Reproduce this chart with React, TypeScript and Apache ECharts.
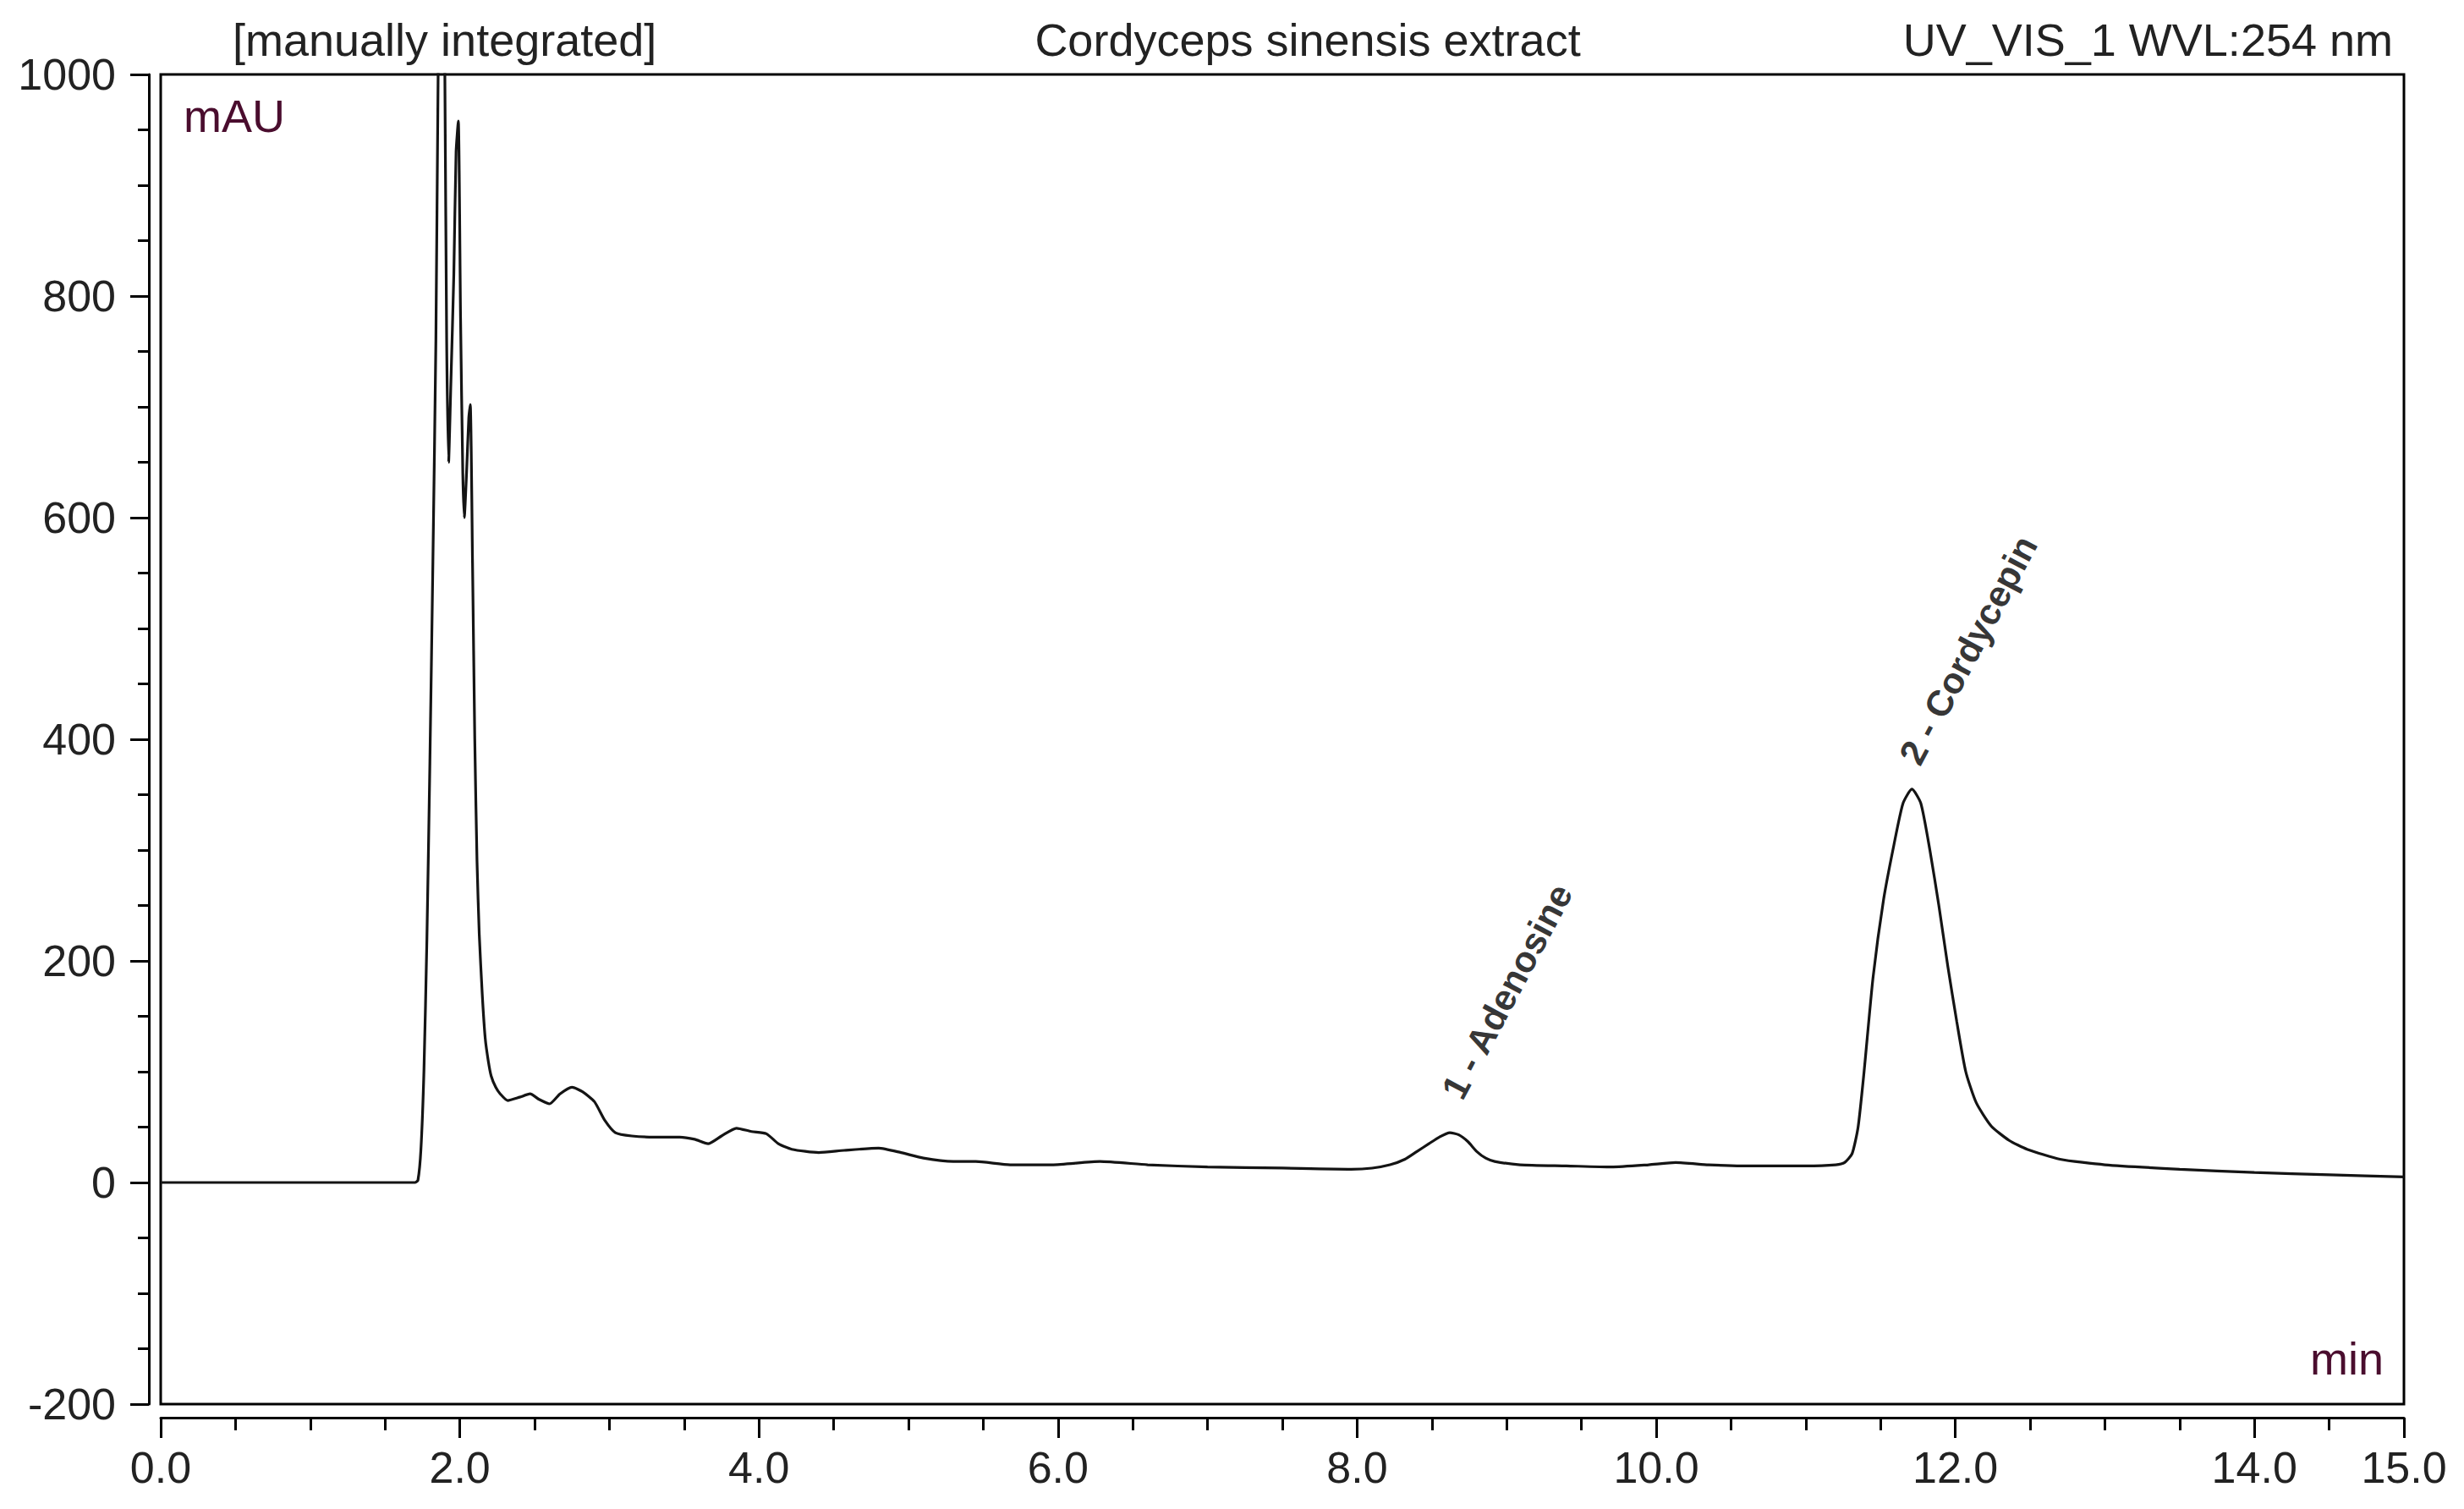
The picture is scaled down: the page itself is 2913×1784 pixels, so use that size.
import React, { useEffect, useRef } from "react";
import * as echarts from "echarts";

// Retention time (min)
const times = [0, 1.70, 1.72, 1.74, 1.76, 1.78, 1.80, 1.82, 1.84, 1.855, 1.875, 1.89, 1.90, 1.912, 1.925, 1.94, 1.96, 1.975, 1.99, 2.005, 2.02, 2.03, 2.045, 2.06, 2.07, 2.085, 2.10, 2.115, 2.13, 2.15, 2.17, 2.19, 2.21, 2.24, 2.27, 2.32, 2.40, 2.47, 2.53, 2.60, 2.67, 2.75, 2.82, 2.90, 2.97, 3.04, 3.15, 3.30, 3.47, 3.57, 3.66, 3.75, 3.85, 3.95, 4.05, 4.13, 4.22, 4.40, 4.57, 4.80, 4.95, 5.10, 5.30, 5.45, 5.68, 5.96, 6.28, 6.60, 7.00, 7.50, 7.96, 8.10, 8.22, 8.32, 8.40, 8.48, 8.55, 8.62, 8.68, 8.74, 8.80, 8.86, 8.92, 9.09, 9.40, 9.70, 9.95, 10.13, 10.35, 10.57, 11.00, 11.20, 11.26, 11.31, 11.35, 11.39, 11.45, 11.52, 11.59, 11.65, 11.71, 11.77, 11.83, 11.89, 11.95, 12.01, 12.07, 12.14, 12.24, 12.36, 12.48, 12.70, 13.00, 13.50, 14.00, 14.50, 15.00];

// Absorbance (mAU)
const absorbance = [0, 0, 2, 30, 100, 220, 380, 560, 760, 1000, 1250, 1150, 1000, 760, 650, 720, 820, 930, 958, 780, 640, 600, 640, 690, 702, 560, 400, 290, 224, 170, 130, 110, 96, 86, 80, 74, 77, 80, 75, 71, 80, 86, 82, 73, 56, 45, 42, 41, 41, 39, 35, 42, 49, 46, 44, 35, 30, 27, 29, 31, 27, 22, 19, 19, 16, 16, 19, 16, 14, 13, 12, 13, 16, 21, 28, 35, 41, 45, 43, 37, 28, 22, 19, 16, 15, 14, 16, 18, 16, 15, 15, 16, 18, 26, 50, 100, 185, 255, 305, 342, 355, 342, 300, 250, 195, 145, 100, 72, 51, 38, 30, 21, 16, 12, 9, 7, 5];

const peakNames = ["1 - Adenosine", "2 - Cordycepin"];
const peakLabelTimes = [8.63, 11.69];
const peakLabelValues = [78, 380];

const xMin = 0;
const xMax = 15;
const xMajor = 2;
const xMinor = 0.5;
const yMin = -200;
const yMax = 1000;
const yMajor = 200;
const yMinor = 50;

const headerLeft = "[manually integrated]";
const headerCenter = "Cordyceps sinensis extract";
const headerRight = "UV_VIS_1 WVL:254 nm";
const yUnit = "mAU";
const xUnit = "min";

const FONT = "'Liberation Sans', Arial, Helvetica, sans-serif";

export default function App() {
  const ref = useRef<HTMLDivElement>(null);

  useEffect(() => {
    document.body.style.margin = "0";
    document.body.style.overflow = "hidden";
    if (!ref.current) return;
    const chart = echarts.init(ref.current, undefined, { renderer: "svg" });

    const isMult = (v: number, m: number) => Math.abs(v / m - Math.round(v / m)) < 1e-6;

    const option: any = {
      animation: false,
      backgroundColor: "#ffffff",
      textStyle: { fontFamily: FONT },
      grid: {
        left: 190,
        top: 88,
        width: 2652,
        height: 1572,
        show: true,
        borderColor: "#000",
        borderWidth: 3,
        backgroundColor: "transparent",
        containLabel: false,
      },
      xAxis: [
        {
          type: "value",
          min: xMin,
          max: xMax,
          interval: xMinor,
          position: "bottom",
          offset: 16,
          axisLine: { show: true, onZero: false, lineStyle: { color: "#000", width: 3 } },
          axisTick: { show: true, length: 15, lineStyle: { color: "#000", width: 3 } },
          axisLabel: {
            show: true,
            margin: 33,
            fontSize: 52,
            color: "#222",
            fontFamily: FONT,
            showMaxLabel: true,
            showMinLabel: true,
            formatter: (v: number) => (isMult(v, xMajor) || Math.abs(v - xMax) < 1e-6 ? v.toFixed(1) : ""),
          },
          splitLine: { show: false },
        },
        {
          type: "value",
          min: xMin,
          max: xMax,
          interval: xMajor,
          position: "bottom",
          offset: 16,
          axisLine: { show: false, onZero: false },
          axisTick: { show: true, length: 24, lineStyle: { color: "#000", width: 3 } },
          axisLabel: { show: false },
          splitLine: { show: false },
        },
      ],
      yAxis: [
        {
          type: "value",
          min: yMin,
          max: yMax,
          interval: yMinor,
          position: "left",
          offset: 14,
          axisLine: { show: true, onZero: false, lineStyle: { color: "#000", width: 3 } },
          axisTick: { show: true, length: 13, lineStyle: { color: "#000", width: 3 } },
          axisLabel: {
            show: true,
            margin: 39,
            fontSize: 52,
            color: "#222",
            fontFamily: FONT,
            formatter: (v: number) => (isMult(v, yMajor) ? String(v) : ""),
          },
          splitLine: { show: false },
        },
        {
          type: "value",
          min: yMin,
          max: yMax,
          interval: yMajor,
          position: "left",
          offset: 14,
          axisLine: { show: false, onZero: false },
          axisTick: { show: true, length: 22, lineStyle: { color: "#000", width: 3 } },
          axisLabel: { show: false },
          splitLine: { show: false },
        },
      ],
      series: [
        {
          type: "line",
          xAxisIndex: 0,
          yAxisIndex: 0,
          data: times.map((t, i) => [t, absorbance[i]]),
          showSymbol: false,
          symbol: "none",
          smooth: 0.2,
          clip: true,
          lineStyle: { color: "#141414", width: 3.2 },
          silent: true,
        },
        {
          type: "scatter",
          xAxisIndex: 0,
          yAxisIndex: 0,
          symbolSize: 0,
          silent: true,
          data: peakNames.map((n, i) => [peakLabelTimes[i], peakLabelValues[i], n]),
          label: {
            show: true,
            position: "inside",
            align: "left",
            verticalAlign: "middle",
            rotate: 62,
            fontSize: 43,
            fontWeight: "bold",
            color: "#000",
            fontFamily: FONT,
            formatter: (p: any) => p.data[2],
          },
        },
      ],
      graphic: [
        {
          type: "text",
          left: 275,
          top: 20,
          style: { text: headerLeft, fontSize: 54, fill: "#222", fontFamily: FONT },
        },
        {
          type: "text",
          x: 1546,
          y: 47,
          style: { text: headerCenter, fontSize: 54, fill: "#222", fontFamily: FONT, textAlign: "center", textVerticalAlign: "middle" },
        },
        {
          type: "text",
          x: 2829,
          y: 47,
          style: { text: headerRight, fontSize: 54, fill: "#222", fontFamily: FONT, textAlign: "right", textVerticalAlign: "middle" },
        },
        {
          type: "text",
          x: 217,
          y: 137,
          style: { text: yUnit, fontSize: 54, fill: "#4a0d2e", fontFamily: FONT, textAlign: "left", textVerticalAlign: "middle" },
        },
        {
          type: "text",
          x: 2818,
          y: 1606,
          style: { text: xUnit, fontSize: 54, fill: "#4a0d2e", fontFamily: FONT, textAlign: "right", textVerticalAlign: "middle" },
        },
      ],
    };

    chart.setOption(option);
    return () => chart.dispose();
  }, []);

  return <div ref={ref} style={{ width: 2913, height: 1784 }} />;
}
